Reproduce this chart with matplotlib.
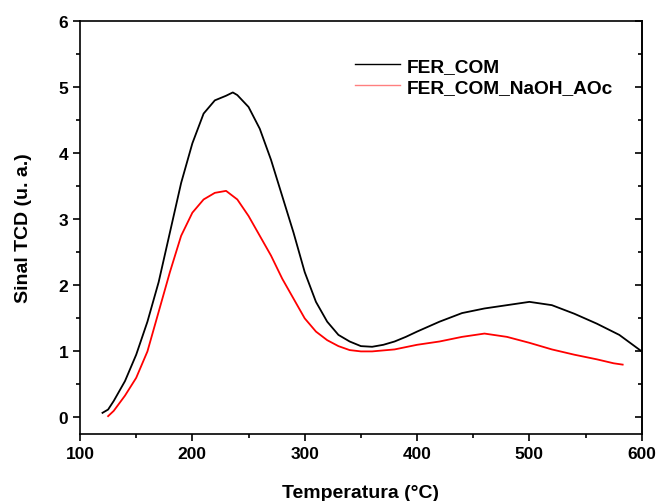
import matplotlib
matplotlib.use("Agg")
import matplotlib.pyplot as plt
from matplotlib.ticker import MultipleLocator

plt.rcParams["font.family"] = ["Liberation Sans", "DejaVu Sans"]
plt.rcParams["font.weight"] = "bold"

# TPD-NH3 signal, FER_COM
temp_com = [120, 125, 130, 140, 150, 160, 170, 180, 190, 200, 210, 220, 230, 236,
            240, 250, 260, 270, 280, 290, 300, 310, 320, 330, 340, 350, 360, 370,
            380, 390, 400, 420, 440, 460, 480, 500, 520, 540, 560, 580, 600]
sig_com = [0.07, 0.12, 0.25, 0.55, 0.95, 1.45, 2.05, 2.8, 3.55, 4.15, 4.6, 4.8, 4.87, 4.92,
           4.88, 4.7, 4.37, 3.9, 3.35, 2.8, 2.2, 1.75, 1.45, 1.25, 1.15, 1.08, 1.07, 1.1,
           1.15, 1.22, 1.3, 1.45, 1.58, 1.65, 1.7, 1.75, 1.7, 1.57, 1.42, 1.25, 1.0]

# FER_COM_NaOH_AOc
temp_naoh = [125, 130, 140, 150, 160, 170, 180, 190, 200, 210, 220, 230, 240, 250,
             260, 270, 280, 290, 300, 310, 320, 330, 340, 350, 360, 380, 400, 420,
             440, 460, 480, 500, 520, 540, 560, 575, 583]
sig_naoh = [0.02, 0.1, 0.33, 0.6, 1.0, 1.6, 2.2, 2.75, 3.1, 3.3, 3.4, 3.43, 3.3, 3.05,
            2.75, 2.45, 2.1, 1.8, 1.5, 1.3, 1.17, 1.08, 1.02, 1.0, 1.0, 1.03, 1.1, 1.15,
            1.22, 1.27, 1.22, 1.13, 1.03, 0.95, 0.88, 0.82, 0.8]

fig = plt.figure(figsize=(6.57, 5.02), dpi=100)
ax = fig.add_axes([0.1218, 0.1335, 0.855, 0.8225])

ax.plot(temp_com, sig_com, color="black", lw=1.3, label="FER_COM")
ax.plot(temp_naoh, sig_naoh, color="red", lw=1.3, label="FER_COM_NaOH_AOc")

ax.set_xlim(100, 600)
ax.set_ylim(-0.25, 6)
ax.xaxis.set_major_locator(MultipleLocator(100))
ax.xaxis.set_minor_locator(MultipleLocator(50))
ax.yaxis.set_major_locator(MultipleLocator(1))
ax.yaxis.set_minor_locator(MultipleLocator(0.5))

for s in ax.spines.values():
    s.set_linewidth(1.2)

ax.tick_params(which="both", direction="out", width=1.2, labelsize=12.5, top=False, right=False)
ax.tick_params(which="major", length=5)
ax.tick_params(which="minor", length=3)

# inward ticks on the right side, no labels
ax2 = ax.secondary_yaxis("right")
ax2.yaxis.set_major_locator(MultipleLocator(1))
ax2.yaxis.set_minor_locator(MultipleLocator(0.5))
ax2.tick_params(which="both", direction="in", width=1.2, labelright=False)
ax2.tick_params(which="major", length=5)
ax2.tick_params(which="minor", length=3)
ax2.spines["right"].set_linewidth(1.2)

for lbl in ax.get_xticklabels() + ax.get_yticklabels():
    lbl.set_fontweight("bold")

ax.set_xlabel("Temperatura (°C)", fontsize=14, fontweight="bold", labelpad=17)
ax.set_ylabel("Sinal TCD (u. a.)", fontsize=14, fontweight="bold", labelpad=19)

leg = ax.legend(loc="upper left", bbox_to_anchor=(0.489, 0.912), frameon=False,
                borderpad=0, borderaxespad=0, fontsize=13.8, handlelength=2.35,
                handletextpad=0.36, labelspacing=0.2)
for h in leg.get_lines():
    h.set_linewidth(1)
leg.get_lines()[1].set_alpha(0.5)
for t in leg.get_texts():
    t.set_fontweight("bold")

fig.savefig("out.png", dpi=100)
